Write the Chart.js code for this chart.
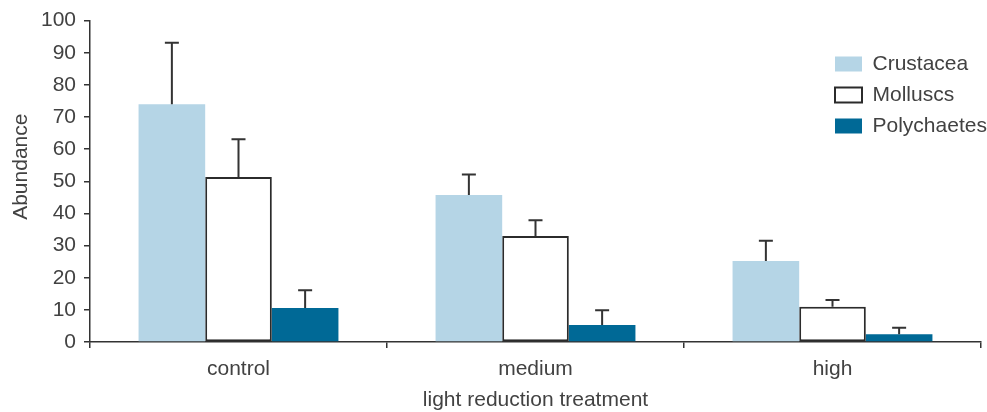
<!DOCTYPE html>
<html>
<head>
<meta charset="utf-8">
<script src="https://cdn.jsdelivr.net/npm/chart.js@4/dist/chart.umd.min.js"></script>
<style>
  html, body { margin: 0; padding: 0; background: #fff; }
  #wrap { width: 987px; height: 412px; position: relative; }
</style>
</head>
<body>
<div id="wrap"><canvas id="c"></canvas></div>
<script>
const categories = ['control', 'medium', 'high'];
const crustacea = [74.0, 45.7, 25.2];
const crustaceaErr = [19.1, 6.4, 6.3];
const molluscs = [51.3, 33.0, 11.0];
const molluscsErr = [11.8, 4.9, 2.1];
const polychaetes = [10.6, 5.3, 2.4];
const polychaetesErr = [5.5, 4.6, 2.0];
const yTicks = [0, 10, 20, 30, 40, 50, 60, 70, 80, 90, 100];

const FONT = "'Liberation Sans', Arial, sans-serif";
const TXT = '#424242';
const INK = '#333333';

const errorBars = {
  id: 'errorBars',
  afterDatasetsDraw(chart) {
    const ctx = chart.ctx;
    const y = chart.scales.y;
    ctx.save();
    ctx.strokeStyle = INK;
    ctx.lineWidth = 2;
    chart.data.datasets.forEach((ds, i) => {
      const meta = chart.getDatasetMeta(i);
      meta.data.forEach((bar, j) => {
        const top = y.getPixelForValue(ds.data[j] + ds.errors[j]);
        ctx.beginPath();
        ctx.moveTo(bar.x, bar.y);
        ctx.lineTo(bar.x, top);
        ctx.moveTo(bar.x - 7, top);
        ctx.lineTo(bar.x + 7, top);
        ctx.stroke();
      });
    });
    ctx.restore();
  }
};

const placeLegend = {
  id: 'placeLegend',
  afterUpdate(chart) {
    const lg = chart.legend;
    if (!lg) return;
    const w = lg.width, h = lg.height;
    lg.left = 825; lg.right = lg.left + w;
    lg.top = 43.5; lg.bottom = lg.top + h;
  }
};

new Chart(document.getElementById('c'), {
  type: 'bar',
  data: {
    labels: categories,
    datasets: [
      { label: 'Crustacea', data: crustacea, errors: crustaceaErr,
        backgroundColor: '#b5d5e6', borderWidth: 0 },
      { label: 'Molluscs', data: molluscs, errors: molluscsErr,
        backgroundColor: '#ffffff', borderColor: '#2b2b2b', borderWidth: 2, borderSkipped: false },
      { label: 'Polychaetes', data: polychaetes, errors: polychaetesErr,
        backgroundColor: '#006996', borderWidth: 0 }
    ]
  },
  options: {
    responsive: true,
    maintainAspectRatio: false,
    animation: false,
    datasets: { bar: { barPercentage: 1, categoryPercentage: 0.673 } },
    layout: { padding: { top: 20, right: 6, bottom: 0, left: 0 } },
    plugins: {
      tooltip: { enabled: false },
      legend: {
        position: 'chartArea',
        align: 'start',
        labels: {
          boxWidth: 27, boxHeight: 15, padding: 10,
          color: TXT, font: { family: FONT, size: 21 }
        }
      }
    },
    scales: {
      x: {
        offset: true,
        afterFit: s => { s.height = 70; },
        border: { display: true, color: INK, width: 1.5 },
        grid: { display: true, offset: true, drawOnChartArea: false, drawTicks: true,
                tickLength: 6, color: INK, tickColor: INK, lineWidth: 1.5 },
        ticks: { color: TXT, font: { family: FONT, size: 21 }, padding: 9 },
        title: { display: true, text: 'light reduction treatment', color: TXT,
                 font: { family: FONT, size: 21 }, padding: { top: 0, bottom: -1 } }
      },
      y: {
        min: 0, max: 100,
        afterFit: s => { s.width = 90; },
        afterBuildTicks: s => { s.ticks = yTicks.map(v => ({ value: v })); },
        border: { display: true, color: INK, width: 1.5 },
        grid: { display: true, drawOnChartArea: false, drawTicks: true,
                tickLength: 6, color: INK, tickColor: INK, lineWidth: 1.5 },
        ticks: { color: TXT, font: { family: FONT, size: 21 }, padding: 8 },
        title: { display: true, text: '     Abundance', color: TXT,
                 font: { family: FONT, size: 21 }, padding: { top: 9, bottom: 0 } }
      }
    }
  },
  plugins: [errorBars, placeLegend]
});
</script>
</body>
</html>
